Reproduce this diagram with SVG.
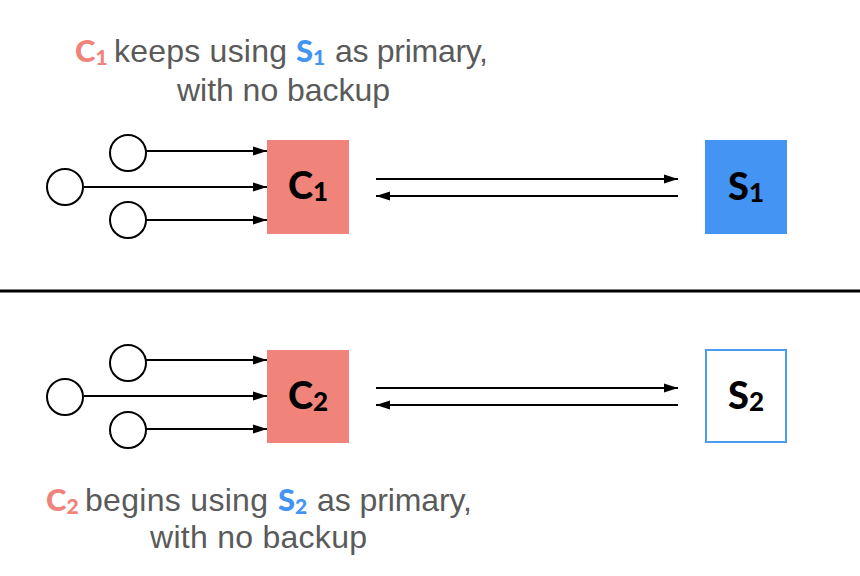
<svg xmlns="http://www.w3.org/2000/svg" width="860" height="576" viewBox="0 0 860 576">
<style>
.cap{font-family:"Liberation Sans",Arial,sans-serif;font-size:32px;fill:#5a5a5a}
.lbl{font-family:Lato,"Open Sans",sans-serif;font-weight:900;fill:#000}
.ic{font-family:Lato,"Open Sans",sans-serif;font-weight:900;font-size:31px}
.isub{font-family:Lato,"Open Sans",sans-serif;font-weight:900;font-size:21px}
.red{fill:#F0837A}
.blue{fill:#4495F3}
.circ{fill:#fff;stroke:#000;stroke-width:2}
.ln{stroke:#000;stroke-width:2;fill:none}
</style>
<defs>
<marker id="ah" markerUnits="userSpaceOnUse" markerWidth="15" markerHeight="11" refX="14" refY="5.5" orient="auto">
<path d="M0,1 L14,5.5 L0,10 z" fill="#000"/>
</marker>
</defs>
<rect width="860" height="576" fill="#fff"/>

<g id="caption-top">
<text y="62"><tspan class="ic red" x="75">C</tspan><tspan class="isub red" dy="3">1</tspan></text>
<text class="cap" x="114" y="62" textLength="173" lengthAdjust="spacing">keeps using</text>
<text y="62"><tspan class="ic blue" x="296">S</tspan><tspan class="isub blue" dy="3">1</tspan></text>
<text class="cap" x="335" y="62" textLength="153" lengthAdjust="spacing">as primary,</text>
<text class="cap" x="177" y="101" textLength="213" lengthAdjust="spacing">with no backup</text>
</g>

<g id="connectors">
<line class="ln" x1="146" y1="151" x2="267" y2="151" marker-end="url(#ah)"/>
<line class="ln" x1="84" y1="187" x2="267" y2="187" marker-end="url(#ah)"/>
<line class="ln" x1="146" y1="220" x2="267" y2="220" marker-end="url(#ah)"/>
<line class="ln" x1="376" y1="179" x2="678" y2="179" marker-end="url(#ah)"/>
<line class="ln" x1="678" y1="196" x2="376" y2="196" marker-end="url(#ah)"/>

<line class="ln" x1="146" y1="360" x2="267" y2="360" marker-end="url(#ah)"/>
<line class="ln" x1="84" y1="396" x2="267" y2="396" marker-end="url(#ah)"/>
<line class="ln" x1="146" y1="429" x2="267" y2="429" marker-end="url(#ah)"/>
<line class="ln" x1="376" y1="388" x2="678" y2="388" marker-end="url(#ah)"/>
<line class="ln" x1="678" y1="405" x2="376" y2="405" marker-end="url(#ah)"/>
</g>

<g id="client-t1"><circle class="circ" cx="128" cy="153" r="18"/></g>
<g id="client-t2"><circle class="circ" cx="65" cy="187" r="18"/></g>
<g id="client-t3"><circle class="circ" cx="128" cy="220" r="18"/></g>

<g id="C1">
<rect x="267" y="140" width="82" height="94" fill="#F0837A"/>
<text class="lbl" x="308" y="199" text-anchor="middle"><tspan font-size="38">C</tspan><tspan font-size="26" dy="2">1</tspan></text>
</g>
<g id="S1">
<rect x="705" y="140" width="82" height="94" fill="#4495F3"/>
<text class="lbl" x="746" y="200" text-anchor="middle"><tspan font-size="38">S</tspan><tspan font-size="26" dy="2">1</tspan></text>
</g>

<line id="separator" x1="0" y1="291" x2="860" y2="291" stroke="#000" stroke-width="3"/>

<g id="client-b1"><circle class="circ" cx="128" cy="363" r="18"/></g>
<g id="client-b2"><circle class="circ" cx="65" cy="397" r="18"/></g>
<g id="client-b3"><circle class="circ" cx="128" cy="430" r="18"/></g>

<g id="C2">
<rect x="267" y="350" width="82" height="93" fill="#F0837A"/>
<text class="lbl" x="308" y="409" text-anchor="middle"><tspan font-size="38">C</tspan><tspan font-size="26" dy="2">2</tspan></text>
</g>
<g id="S2">
<rect x="706" y="350" width="80" height="92" fill="#fff" stroke="#4C9BF2" stroke-width="2"/>
<text class="lbl" x="746" y="409" text-anchor="middle"><tspan font-size="38">S</tspan><tspan font-size="26" dy="2">2</tspan></text>
</g>

<g id="caption-bottom">
<text y="511"><tspan class="ic red" x="46">C</tspan><tspan class="isub red" dy="3">2</tspan></text>
<text class="cap" x="85" y="511" textLength="183" lengthAdjust="spacing">begins using</text>
<text y="511"><tspan class="ic blue" x="278">S</tspan><tspan class="isub blue" dy="3">2</tspan></text>
<text class="cap" x="317" y="511" textLength="155" lengthAdjust="spacing">as primary,</text>
<text class="cap" x="150" y="548" textLength="217" lengthAdjust="spacing">with no backup</text>
</g>
</svg>
